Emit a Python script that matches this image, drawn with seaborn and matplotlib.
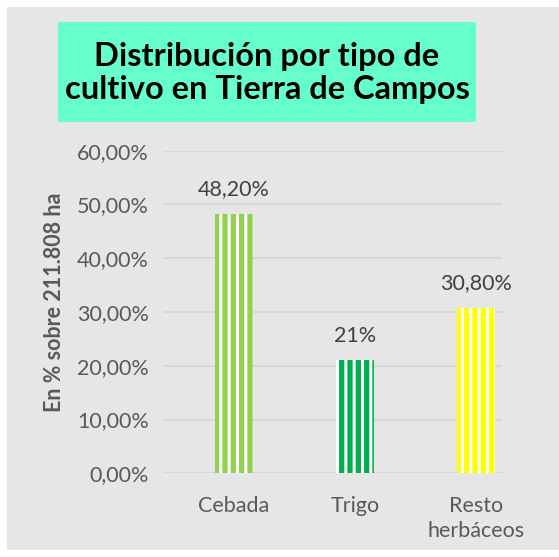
import matplotlib
matplotlib.use('Agg')
import matplotlib.pyplot as plt
import seaborn as sns
import pandas as pd
from matplotlib.patches import Rectangle
from matplotlib.ticker import FuncFormatter

# Datos
cultivos = ['Cebada', 'Trigo', 'Resto\nherbáceos']
porcentajes = [48.2, 21.0, 30.8]
etiquetas = ['48,20%', '21%', '30,80%']
colores = ['#92D050', '#00B050', '#FFFF00']

df = pd.DataFrame({'cultivo': cultivos, 'pct': porcentajes})

sns.set_style('white')
plt.rcParams['font.family'] = ['Lato', 'DejaVu Sans']
plt.rcParams['hatch.linewidth'] = 2.2

bg = '#E6E6E6'
txt = '#595959'

fig = plt.figure(figsize=(5.59, 5.57), dpi=100)
fig.patch.set_facecolor('white')
fig.add_artist(Rectangle((7 / 559, 7 / 557), 552 / 559, 543 / 557, transform=fig.transFigure,
                         facecolor=bg, edgecolor='none', zorder=0))

ax = fig.add_axes([163 / 559, 1 - 473.3 / 557, 339 / 559, 322.6 / 557])
ax.set_facecolor('none')

sns.barplot(data=df, x='cultivo', y='pct', hue='cultivo', palette=colores,
            width=0.32, legend=False, ax=ax, zorder=3)

for p, c in zip(ax.patches, colores):
    p.set_facecolor(c)
    p.set_edgecolor('white')
    p.set_linewidth(0)
    p.set_hatch('||')

for i, (v, lab) in enumerate(zip(porcentajes, etiquetas)):
    ax.text(i, v + 4.6, lab, ha='center', va='center', fontsize=15.5, color='#404040')

ax.set_ylim(0, 60)
ax.set_xlim(-0.587, 2.215)
ax.set_yticks(range(0, 61, 10))
ax.yaxis.set_major_formatter(FuncFormatter(lambda v, _: f'{v:.2f}%'.replace('.', ',')))
ax.grid(axis='y', color='#D4D4D4', linewidth=1.2, zorder=0)
ax.set_axisbelow(True)
for s in ax.spines.values():
    s.set_visible(False)
ax.tick_params(axis='y', labelsize=15.5, labelcolor=txt, length=0, pad=10)
ax.tick_params(axis='x', labelsize=15.5, labelcolor=txt, length=0, pad=16)
for t in ax.get_xticklabels():
    t.set_linespacing(1.35)
ax.set_xlabel('')
ax.set_ylabel('')

fig.text(55 / 559, 1 - 302 / 557, 'En % sobre 211.808 ha', rotation=90, ha='center', va='center',
         fontsize=15.5, fontweight='bold', color=txt)

# Título con caja
fig.add_artist(Rectangle((58 / 559, 1 - 122 / 557), 418 / 559, 100 / 557, transform=fig.transFigure,
                         facecolor='#66FFCC', edgecolor='none', zorder=1))
fig.text(267 / 559, 1 - 73 / 557, 'Distribución por tipo de\ncultivo en Tierra de Campos',
         ha='center', va='center', fontsize=23.5, fontweight='bold', color='black',
         linespacing=1.15, zorder=2)

fig.savefig('out.png', dpi=100, facecolor=fig.get_facecolor())
